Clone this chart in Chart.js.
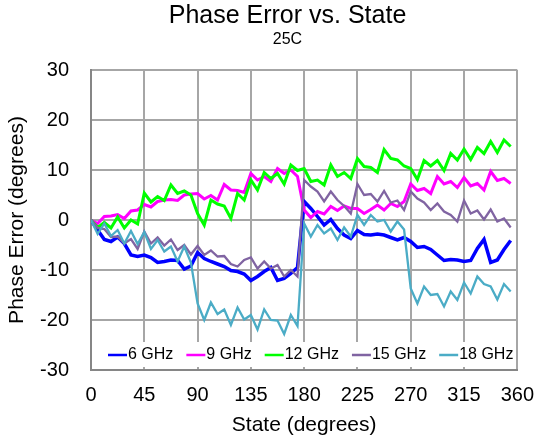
<!DOCTYPE html>
<html>
<head>
<meta charset="utf-8">
<script src="https://cdn.jsdelivr.net/npm/chart.js@4/dist/chart.umd.min.js"></script>
<style>
  html, body { margin: 0; padding: 0; background: #fff; }
  #wrap { width: 547px; height: 442px; }
</style>
</head>
<body>
<div id="wrap"><canvas id="chart"></canvas></div>
<script>
// phase states, 6-bit, 5.625 deg LSB
const states = [
  0, 5.625, 11.25, 16.875, 22.5, 28.125, 33.75, 39.375,
  45, 50.625, 56.25, 61.875, 67.5, 73.125, 78.75, 84.375,
  90, 95.625, 101.25, 106.875, 112.5, 118.125, 123.75, 129.375,
  135, 140.625, 146.25, 151.875, 157.5, 163.125, 168.75, 174.375,
  180, 185.625, 191.25, 196.875, 202.5, 208.125, 213.75, 219.375,
  225, 230.625, 236.25, 241.875, 247.5, 253.125, 258.75, 264.375,
  270, 275.625, 281.25, 286.875, 292.5, 298.125, 303.75, 309.375,
  315, 320.625, 326.25, 331.875, 337.5, 343.125, 348.75, 354.375
];

const err6GHz = [
  0, -2, -3.9, -4.3, -3.4, -4.7, -7, -7.3, -7, -7.5,
  -8.5, -8.3, -8, -8.1, -9.8, -9.2, -6.5, -7.7, -8.3, -8.8,
  -9.3, -10.1, -10.3, -10.8, -12.1, -11.3, -10.3, -9.5, -12.1, -11.7,
  -10.7, -9.5, 3.7, 2.3, 0.7, -1, 0.1, -1.7, -3, -3.7,
  -2.1, -2.9, -3, -2.8, -3, -3.5, -4, -3.5, -4.3, -5.5,
  -5.3, -5.9, -7, -8.1, -7.9, -8, -8.3, -8.1, -5.7, -3.9,
  -8.5, -8, -5.9, -4.1
];
const err9GHz = [
  0, -0.7, 0.7, 0.8, 1.1, 0.3, 1.8, 2, 3.1, 2.6,
  3.7, 4, 4.1, 3.9, 5, 5.2, 5.3, 4.2, 4.9, 4,
  7.1, 6, 5.9, 5.5, 9.3, 8, 8.7, 7.7, 10.3, 9.3,
  10, 8.7, 2, 0.5, 1.7, 1.2, 2.7, 1.9, 2.8, 2.3,
  2.3, 1.3, 2.1, 3, 2, 3.3, 2.7, 3.7, 7.2, 5.9,
  6.3, 5.3, 8.7, 7.2, 7.7, 6.5, 8.5, 6.8, 7.3, 6,
  9.7, 7.9, 8.3, 7.3
];
const err12GHz = [
  0, -1.5, -0.5, -1.6, 0.6, -1.6, 0, -0.8, 5.4, 3.6,
  4.7, 3.9, 7, 5.3, 5.8, 5, 1.3, -1, 4, 3.2,
  2.8, 0.3, 5.3, 4, 8, 6, 9.5, 8.3, 9.3, 7.2,
  11, 9.9, 10.3, 7.7, 8, 7, 11, 8.7, 9.5, 8.3,
  12.3, 10.7, 10.5, 9.5, 14.1, 12.3, 12, 10.8, 10.3, 8.1,
  11.9, 10.8, 11.9, 9.9, 13.3, 12, 14.2, 12.1, 14.5, 13.3,
  15.7, 13.5, 16, 14.7
];
const err15GHz = [
  0, -1.6, -1.8, -3.4, -3.3, -4.7, -3.8, -5.8, -2.3, -4.7,
  -3.5, -5.1, -3.9, -6, -5, -6.9, -5.2, -7, -6.1, -7.3,
  -7.2, -8.8, -9.3, -8, -7.5, -9.7, -8.3, -9.7, -9, -11.3,
  -10, -11.3, 8, 6.7, 5.7, 3.7, 5.7, 4, 2.8, 1.3,
  7.2, 5, 5.2, 3.7, 5.8, 3.5, 3.9, 2, 5.7, 4.3,
  3.5, 2, 3.3, 1.7, 1, -0.3, 3.9, 1.3, 1.9, 0.1,
  2.1, -0.3, 0.3, -1.5
];
const err18GHz = [
  0, -2.8, -0.7, -3.2, -2, -4.7, -2.2, -4.8, -2.4, -5.8,
  -4, -6.3, -5.3, -8.3, -5.3, -8.5, -16.7, -20, -16.5, -18.8,
  -17.9, -21, -17.5, -19.9, -19, -21.9, -17.9, -20, -20.1, -22.8,
  -19, -21.2, -0.7, -3.3, -1, -2.7, -1.7, -4, -1.5, -3.3,
  1, -1, 1, -0.3, 0, -2.3, -0.3, -1.9, -13.7, -16.7,
  -13.3, -15, -14.8, -17.3, -14.3, -16, -12.5, -14.7, -11.3, -12.8,
  -13.3, -15.9, -12.8, -14.3
];

const seriesNames  = ['6 GHz', '9 GHz', '12 GHz', '15 GHz', '18 GHz'];
const seriesValues = [err6GHz, err9GHz, err12GHz, err15GHz, err18GHz];
const seriesColors = ['#0000ff', '#ff00ff', '#00ff00', '#8064a2', '#4bacc6'];
const seriesWidths = [3.5, 3, 3, 2.3, 2.3];

const FONT = "'Liberation Sans', Arial, sans-serif";

// Excel-style legend sitting inside the bottom of the plot
const insideLegend = {
  id: 'insideLegend',
  afterDatasetsDraw(chart) {
    const { ctx, chartArea } = chart;
    const y = chartArea.bottom - 15;
    ctx.save();
    ctx.fillStyle = '#ffffff';
    ctx.fillRect(chartArea.left + 2, chartArea.bottom - 28, chartArea.right - chartArea.left - 4, 25);
    ctx.font = `16px ${FONT}`;
    ctx.textBaseline = 'middle';
    ctx.textAlign = 'left';
    let x = chartArea.left + 17;
    chart.data.datasets.forEach(ds => {
      ctx.strokeStyle = ds.borderColor;
      ctx.lineWidth = 2.5;
      ctx.beginPath();
      ctx.moveTo(x, y);
      ctx.lineTo(x + 19, y);
      ctx.stroke();
      ctx.fillStyle = '#000';
      ctx.fillText(ds.label, x + 20, y);
      x += 20 + ctx.measureText(ds.label).width + 13;
    });
    ctx.restore();
  }
};

// shift the title block so it centres on the plot+axis region like the original
const titleShift = {
  id: 'titleShift',
  afterLayout(chart) {
    chart.boxes.forEach(b => {
      if (b.fullSize && b.options && b.options.position === 'top') {
        b.left = 28;
        b.right = 547;
      }
    });
  }
};

const ctx = document.getElementById('chart').getContext('2d');
new Chart(ctx, {
  type: 'line',
  data: {
    datasets: seriesNames.map((name, k) => ({
      label: name,
      data: states.map((s, i) => ({ x: s, y: seriesValues[k][i] })),
      borderColor: seriesColors[k],
      backgroundColor: seriesColors[k],
      borderWidth: seriesWidths[k],
      pointRadius: 0,
      tension: 0,
      order: 4 - k,
    })),
  },
  options: {
    responsive: true,
    maintainAspectRatio: false,
    animation: false,
    layout: { padding: { top: 0, right: 18, bottom: 0, left: 0 } },
    plugins: {
      legend: { display: false },
      tooltip: { enabled: false },
      title: {
        display: true,
        text: 'Phase Error vs. State',
        color: '#000',
        font: { family: FONT, size: 25, weight: 'normal', lineHeight: 1.1 },
        padding: { top: 2, bottom: 0 },
      },
      subtitle: {
        display: true,
        text: '25C',
        color: '#000',
        font: { family: FONT, size: 16, weight: 'normal', lineHeight: 1.2 },
        padding: { top: 0, bottom: 21.3 },
      },
    },
    scales: {
      x: {
        type: 'linear',
        min: 0,
        max: 360,
        afterFit: s => { s.height = 72; },
        ticks: { stepSize: 45, color: '#000', padding: 13, font: { family: FONT, size: 20 }, maxRotation: 0 },
        grid: { color: '#a6a6a6', lineWidth: 2, drawTicks: false },
        border: { color: '#868686', width: 2 },
        title: {
          display: true,
          text: 'State (degrees)',
          color: '#000',
          font: { family: FONT, size: 21 },
          padding: { top: 0, bottom: 4 },
        },
      },
      y: {
        min: -30,
        max: 30,
        afterFit: s => { s.width = 91; },
        ticks: { stepSize: 10, color: '#000', padding: 22, font: { family: FONT, size: 20 } },
        grid: { color: '#a6a6a6', lineWidth: 2, drawTicks: false },
        border: { color: '#868686', width: 2 },
        title: {
          display: true,
          text: 'Phase Error (degrees)',
          color: '#000',
          font: { family: FONT, size: 21 },
          padding: { top: 5, bottom: 0 },
        },
      },
    },
  },
  plugins: [titleShift, insideLegend],
});
</script>
</body>
</html>
